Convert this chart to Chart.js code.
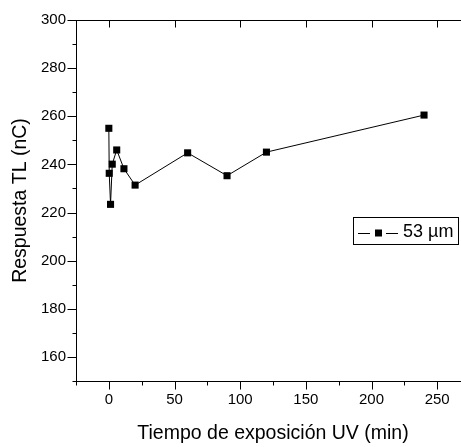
<!DOCTYPE html>
<html>
<head>
    <title>Respuesta TL vs tiempo UV</title>
    <script src="https://cdn.jsdelivr.net/npm/chart.js"></script>
    <style>
        body { margin: 0; overflow: hidden; background: #fff; }
        canvas { display: block; }
    </style>
</head>
<body>
    <canvas id="tl-chart" width="470" height="447"></canvas>

    <script>
        // Data
        const timeMin = [0, 0.3, 1.3, 2.6, 6, 11.5, 20, 60, 90, 120, 240];
        const responseNC = [255, 236.3, 223.4, 240.1, 246, 238.2, 231.4, 244.8, 235.3, 245.1, 260.5];
        const seriesLabel = '53 \u00b5m';
        const xTicks = [0, 50, 100, 150, 200, 250];
        const yTicks = [160, 180, 200, 220, 240, 260, 280, 300];

        const FONT = 'Liberation Sans, Arial, sans-serif';

        // Origin-style frame with major / minor tick marks
        const frameTicks = {
            id: 'frameTicks',
            afterDraw(chart) {
                const { ctx, chartArea: a, scales: { x, y } } = chart;
                ctx.save();
                ctx.strokeStyle = '#000';
                ctx.lineWidth = 1;
                ctx.beginPath();
                const top = Math.round(a.top) + 0.5;
                const bottom = Math.round(a.bottom) + 0.5;
                const left = Math.round(a.left) + 0.5;
                ctx.moveTo(left, top);
                ctx.lineTo(a.right, top);
                for (let v = x.min; v <= x.max; v += 25) {
                    const px = Math.round(x.getPixelForValue(v)) + 0.5;
                    const major = xTicks.includes(v);
                    ctx.moveTo(px, bottom);
                    ctx.lineTo(px, bottom + (major ? 8 : 4));
                    if (major) {
                        ctx.moveTo(px, top);
                        ctx.lineTo(px, top + 7);
                    }
                }
                for (let v = y.min; v <= y.max; v += 10) {
                    const py = Math.round(y.getPixelForValue(v)) + 0.5;
                    const major = yTicks.includes(v);
                    ctx.moveTo(left, py);
                    ctx.lineTo(left - (major ? 9 : 4), py);
                }
                ctx.stroke();
                ctx.restore();
            }
        };

        // Boxed legend inside the plot
        const boxLegend = {
            id: 'boxLegend',
            afterDraw(chart) {
                const ctx = chart.ctx;
                const ds = chart.data.datasets[0];
                ctx.save();
                ctx.strokeStyle = '#000';
                ctx.lineWidth = 1;
                ctx.strokeRect(353.5, 217.5, 105, 27);
                ctx.beginPath();
                ctx.moveTo(358, 233.5);
                ctx.lineTo(370, 233.5);
                ctx.moveTo(386, 233.5);
                ctx.lineTo(398, 233.5);
                ctx.stroke();
                ctx.fillStyle = '#000';
                ctx.fillRect(375, 229.5, 7, 7);
                ctx.font = '18px ' + FONT;
                ctx.textBaseline = 'middle';
                ctx.fillText(ds.label, 403, 232);
                ctx.restore();
            }
        };

        new Chart(document.getElementById('tl-chart'), {
            type: 'scatter',
            data: {
                datasets: [{
                    label: seriesLabel,
                    data: timeMin.map((t, i) => ({ x: t, y: responseNC[i] })),
                    showLine: true,
                    borderColor: '#000',
                    borderWidth: 1,
                    pointStyle: 'rect',
                    pointRadius: 5,
                    pointBackgroundColor: '#000',
                    pointBorderWidth: 0
                }]
            },
            options: {
                responsive: false,
                animation: false,
                layout: { autoPadding: false, padding: { top: 20, right: 0, left: 0, bottom: 0 } },
                plugins: {
                    legend: { display: false },
                    tooltip: { enabled: false }
                },
                scales: {
                    x: {
                        type: 'linear',
                        min: -25,
                        max: 275,
                        afterFit: s => { s.height = 66; },
                        afterBuildTicks: s => { s.ticks = xTicks.map(v => ({ value: v })); },
                        grid: { display: false, drawTicks: false },
                        border: { display: true, color: '#000', width: 1 },
                        ticks: { color: '#000', padding: 10, maxRotation: 0, font: { family: FONT, size: 15 } },
                        title: {
                            display: true,
                            text: 'Tiempo de exposición UV (min)',
                            color: '#000',
                            font: { family: FONT, size: 19.5 },
                            padding: { top: 0, bottom: 2 }
                        }
                    },
                    y: {
                        type: 'linear',
                        min: 150,
                        max: 300,
                        afterFit: s => { s.width = 76; },
                        afterBuildTicks: s => { s.ticks = yTicks.map(v => ({ value: v })); },
                        grid: { display: false, drawTicks: false },
                        border: { display: true, color: '#000', width: 1 },
                        ticks: { color: '#000', padding: 10, font: { family: FONT, size: 15 } },
                        title: {
                            display: true,
                            text: 'Respuesta TL (nC)',
                            color: '#000',
                            font: { family: FONT, size: 19.5 },
                            padding: { top: 9, bottom: 0 }
                        }
                    }
                }
            },
            plugins: [frameTicks, boxLegend]
        });
    </script>
</body>
</html>
